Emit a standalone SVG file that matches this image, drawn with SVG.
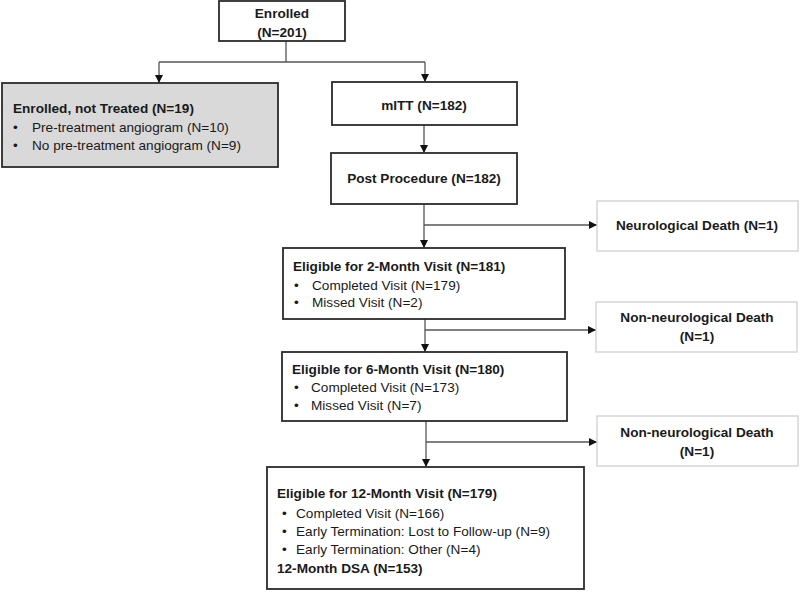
<svg xmlns="http://www.w3.org/2000/svg" width="800" height="593" viewBox="0 0 800 593">
<defs>
<marker id="arr" markerUnits="userSpaceOnUse" markerWidth="9" markerHeight="9" refX="8" refY="4" orient="auto"><path d="M0,0 L8,4 L0,8 z" fill="#111"/></marker>
<style>
text{font-family:"Liberation Sans",Arial,sans-serif;font-size:13.6px;fill:#1a1a1a}
.b{font-weight:bold}
.c{text-anchor:middle}
.box{fill:#fff;stroke:#2b2b2b;stroke-width:1.8}
.gray{fill:#d9d9d9;stroke:#2b2b2b;stroke-width:1.8}
.death{fill:#fff;stroke:#cfcfcf;stroke-width:1.3}
.con{fill:none;stroke:#555;stroke-width:1.3}
.arr{marker-end:url(#arr)}
</style>
</defs>
<rect width="800" height="593" fill="#fff"/>
<g id="connectors">
<path class="con" d="M286 41 V62 M159 62 H425"/>
<path class="con arr" d="M159 62 V83"/>
<path class="con arr" d="M425 62 V82"/>
<path class="con arr" d="M424 125 V153"/>
<path class="con arr" d="M424 204 V248"/>
<path class="con arr" d="M424 225 H597"/>
<path class="con arr" d="M425 319 V352"/>
<path class="con arr" d="M425 330 H596"/>
<path class="con arr" d="M426 421 V467"/>
<path class="con arr" d="M426 442 H597"/>
</g>
<g id="enrolled">
<rect class="box" x="219" y="1" width="126" height="40"/>
<text class="b c" x="282" y="18">Enrolled</text>
<text class="b c" x="282" y="37">(N=201)</text>
</g>
<g id="not-treated">
<rect class="gray" x="2" y="83" width="276" height="84"/>
<text class="b" x="13" y="113">Enrolled, not Treated (N=19)</text>
<text x="13" y="132">•</text><text x="32" y="132">Pre-treatment angiogram (N=10)</text>
<text x="13" y="150">•</text><text x="32" y="150">No pre-treatment angiogram (N=9)</text>
</g>
<g id="mitt">
<rect class="box" x="332" y="82" width="185" height="43"/>
<text class="b c" x="424" y="110">mITT (N=182)</text>
</g>
<g id="post-procedure">
<rect class="box" x="331" y="153" width="186" height="51"/>
<text class="b c" x="424" y="183">Post Procedure (N=182)</text>
</g>
<g id="neuro-death">
<rect class="death" x="597" y="201" width="201" height="50"/>
<text class="b c" x="697" y="230">Neurological Death (N=1)</text>
</g>
<g id="month2">
<rect class="box" x="283" y="248" width="282" height="71"/>
<text class="b" x="293" y="271">Eligible for 2-Month Visit (N=181)</text>
<text x="294" y="290">•</text><text x="312" y="290">Completed Visit (N=179)</text>
<text x="294" y="307">•</text><text x="312" y="307">Missed Visit (N=2)</text>
</g>
<g id="nonneuro-death-1">
<rect class="death" x="596" y="302" width="201" height="50"/>
<text class="b c" x="697" y="322">Non-neurological Death</text>
<text class="b c" x="697" y="341">(N=1)</text>
</g>
<g id="month6">
<rect class="box" x="282" y="352" width="285" height="69"/>
<text class="b" x="292" y="374">Eligible for 6-Month Visit (N=180)</text>
<text x="294" y="392">•</text><text x="311" y="392">Completed Visit (N=173)</text>
<text x="294" y="410">•</text><text x="311" y="410">Missed Visit (N=7)</text>
</g>
<g id="nonneuro-death-2">
<rect class="death" x="597" y="416" width="201" height="50"/>
<text class="b c" x="697" y="437">Non-neurological Death</text>
<text class="b c" x="697" y="456">(N=1)</text>
</g>
<g id="month12">
<rect class="box" x="267" y="467" width="317" height="122"/>
<text class="b" x="277" y="498">Eligible for 12-Month Visit (N=179)</text>
<text x="282" y="518">•</text><text x="296" y="518">Completed Visit (N=166)</text>
<text x="282" y="536">•</text><text x="296" y="536">Early Termination: Lost to Follow-up (N=9)</text>
<text x="282" y="554">•</text><text x="296" y="554">Early Termination: Other (N=4)</text>
<text class="b" x="277" y="573">12-Month DSA (N=153)</text>
</g>
</svg>
